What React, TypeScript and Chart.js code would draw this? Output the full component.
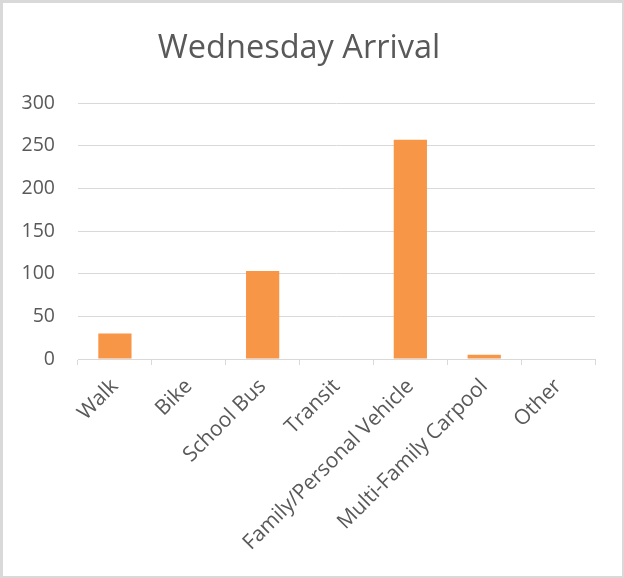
import React, { useEffect, useRef } from "react";
import { Chart, registerables } from "chart.js";

Chart.register(...registerables);

const categories = [
  "Walk",
  "Bike",
  "School Bus",
  "Transit",
  "Family/Personal Vehicle",
  "Multi-Family Carpool",
  "Other",
];
const arrivals = [30, 0, 103, 0, 257, 5, 0];
const chartTitle = "Wednesday Arrival";
const yMin = 0;
const yMax = 300;
const yStep = 50;

const FONT = "'Open Sans', sans-serif";
const TEXT = "#595959";
const GRID = "#d9d9d9";

export default function App() {
  const ref = useRef<HTMLCanvasElement | null>(null);

  useEffect(() => {
    document.body.style.margin = "0";
    const canvas = ref.current;
    if (!canvas) return;
    const chart = new Chart(canvas, {
      type: "bar",
      data: {
        labels: categories,
        datasets: [
          {
            data: arrivals,
            backgroundColor: "#F79646",
            categoryPercentage: 1,
            barPercentage: 0.45,
          },
        ],
      },
      options: {
        animation: false,
        responsive: false,
        maintainAspectRatio: false,
        layout: { padding: { left: 0, right: 27, top: 0, bottom: 0 } },
        plugins: {
          legend: { display: false },
          tooltip: { enabled: false },
          title: {
            display: true,
            text: chartTitle,
            color: TEXT,
            font: { family: FONT, size: 32.5, weight: "normal" },
            padding: { top: 26, bottom: 35 },
          },
        },
        scales: {
          x: {
            grid: {
              display: true,
              drawOnChartArea: false,
              drawTicks: true,
              tickLength: 6,
              color: GRID,
              offset: true,
            },
            border: { display: true, color: GRID, width: 1 },
            ticks: {
              color: TEXT,
              font: { family: FONT, size: 21 },
              minRotation: 45,
              maxRotation: 45,
              padding: 9,
              autoSkip: false,
            },
            afterFit: (scale: any) => {
              scale.height = 217;
            },
          },
          y: {
            min: yMin,
            max: yMax,
            grid: { color: GRID, drawTicks: false, lineWidth: 1 },
            border: { display: false },
            ticks: {
              stepSize: yStep,
              color: TEXT,
              font: { family: FONT, size: 19.5 },
              padding: 23,
            },
            afterFit: (scale: any) => {
              scale.width = 75;
            },
          },
        },
      },
    });
    return () => chart.destroy();
  }, []);

  return (
    <div
      style={{
        position: "absolute",
        left: 0,
        top: 0,
        width: 624,
        height: 578,
        boxSizing: "border-box",
        borderLeft: "3px solid #d9d9d9",
        borderTop: "3px solid #d9d9d9",
        borderRight: "2px solid #d9d9d9",
        borderBottom: "2px solid #d9d9d9",
        background: "#fff",
      }}
    >
      <canvas ref={ref} width={619} height={573} style={{ display: "block" }} />
    </div>
  );
}
